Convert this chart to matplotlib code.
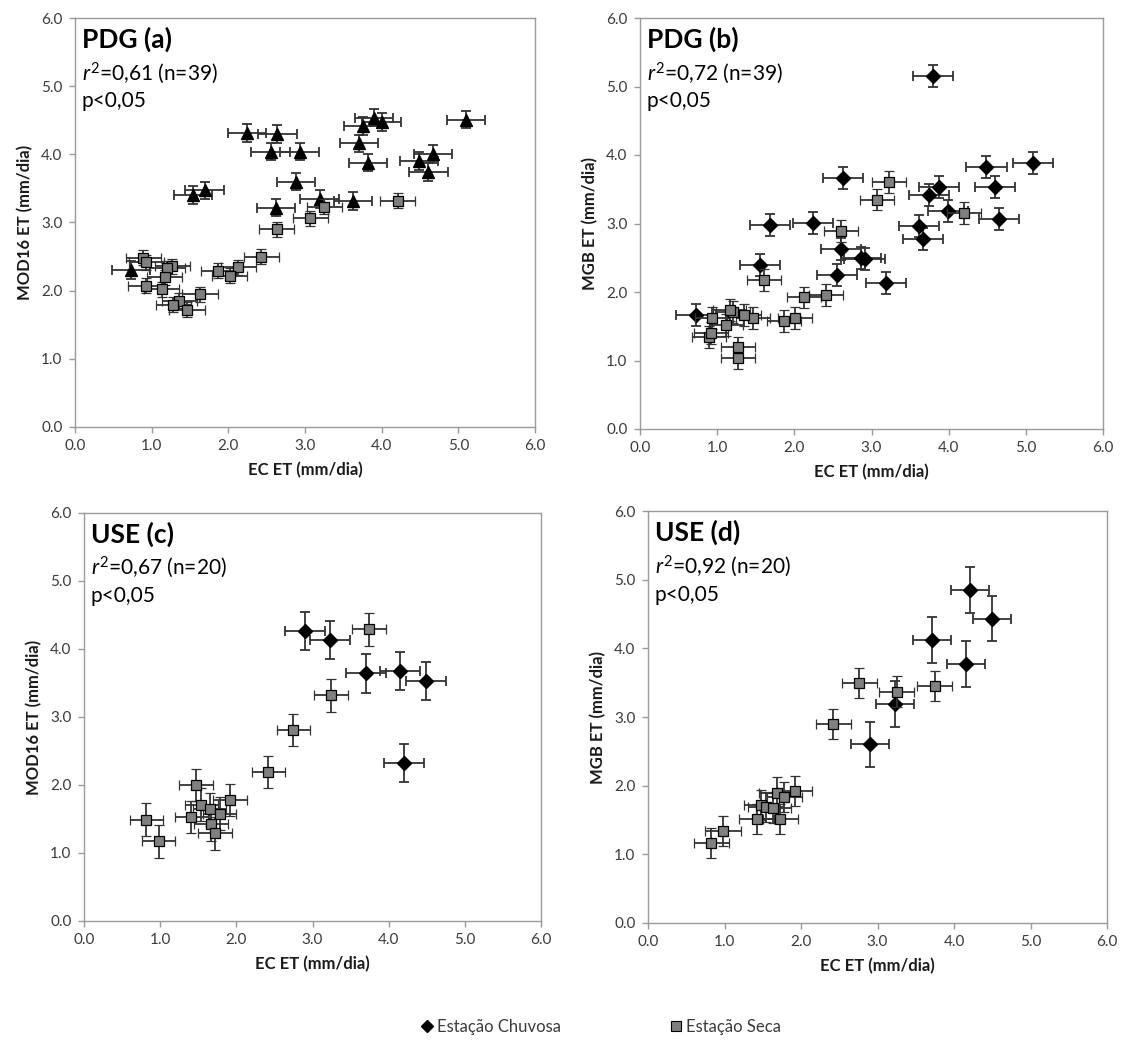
import matplotlib
matplotlib.use("Agg")
import matplotlib.pyplot as plt
from matplotlib.lines import Line2D

plt.rcParams['font.family'] = ['Lato', 'DejaVu Sans']
plt.rcParams['mathtext.fontset'] = 'custom'
plt.rcParams['mathtext.rm'] = 'Lato'
plt.rcParams['mathtext.it'] = 'Lato:italic'

# ---------------- data ----------------
# Panel (a) PDG, MOD16 vs EC
a_wet_x = [0.73, 1.54, 1.69, 2.24, 2.64, 2.55, 2.93, 2.88, 3.19, 2.62, 3.63, 3.70, 3.76, 3.90, 4.00, 3.82, 4.49, 4.67, 4.61, 5.10]
a_wet_y = [2.30, 3.40, 3.47, 4.31, 4.30, 4.04, 4.04, 3.60, 3.35, 3.22, 3.32, 4.16, 4.42, 4.54, 4.47, 3.88, 3.90, 4.01, 3.74, 4.51]
a_dry_x = [4.21, 3.25, 3.07, 2.63, 2.43, 2.13, 2.02, 1.87, 1.63, 0.89, 0.93, 1.27, 1.20, 1.17, 0.92, 1.13, 1.36, 1.28, 1.46]
a_dry_y = [3.32, 3.23, 3.06, 2.90, 2.50, 2.34, 2.22, 2.29, 1.95, 2.48, 2.42, 2.36, 2.33, 2.20, 2.07, 2.02, 1.85, 1.79, 1.72]

# Panel (b) PDG, MGB vs EC
b_wet_x = [3.80, 0.73, 1.55, 1.68, 2.24, 2.63, 2.60, 2.55, 2.86, 2.91, 3.19, 3.62, 3.67, 3.75, 3.88, 3.99, 4.49, 4.60, 4.65, 5.09]
b_wet_y = [5.15, 1.66, 2.40, 2.98, 3.01, 3.66, 2.63, 2.25, 2.49, 2.48, 2.13, 2.96, 2.77, 3.42, 3.53, 3.18, 3.82, 3.53, 3.07, 3.88]
b_dry_x = [3.23, 3.07, 4.20, 2.61, 1.61, 2.12, 2.41, 2.01, 1.86, 1.46, 1.35, 1.20, 1.16, 1.12, 0.93, 0.89, 0.92, 1.27, 1.27]
b_dry_y = [3.61, 3.35, 3.16, 2.89, 2.18, 1.92, 1.96, 1.62, 1.57, 1.62, 1.67, 1.71, 1.74, 1.52, 1.62, 1.34, 1.40, 1.19, 1.04]

# Panel (c) USE, MOD16 vs EC
c_wet_x = [2.90, 3.23, 3.70, 4.15, 4.49, 4.20]
c_wet_y = [4.26, 4.13, 3.64, 3.67, 3.53, 2.33]
c_dry_x = [3.74, 3.24, 2.75, 2.42, 0.82, 0.98, 1.47, 1.54, 1.41, 1.65, 1.78, 1.67, 1.72, 1.92]
c_dry_y = [4.29, 3.32, 2.81, 2.19, 1.49, 1.17, 2.00, 1.71, 1.53, 1.64, 1.58, 1.42, 1.29, 1.78]

# Panel (d) USE, MGB vs EC
d_wet_x = [4.21, 4.50, 3.71, 4.16, 3.23, 2.90]
d_wet_y = [4.85, 4.43, 4.12, 3.77, 3.19, 2.60]
d_dry_x = [2.76, 3.25, 3.75, 2.42, 1.92, 1.68, 1.78, 1.48, 1.54, 1.64, 1.42, 1.73, 0.98, 0.83]
d_dry_y = [3.49, 3.37, 3.45, 2.90, 1.92, 1.90, 1.83, 1.72, 1.69, 1.67, 1.51, 1.51, 1.34, 1.17]

titles = ["PDG (a)", "PDG (b)", "USE (c)", "USE (d)"]
stats = ["0,61 (n=39)", "0,72 (n=39)", "0,67 (n=20)", "0,92 (n=20)"]
ylabels = ["MOD16 ET (mm/dia)", "MGB ET (mm/dia)", "MOD16 ET (mm/dia)", "MGB ET (mm/dia)"]
xlabel = "EC ET (mm/dia)"
ticks = [0.0, 1.0, 2.0, 3.0, 4.0, 5.0, 6.0]
tick_labels = ["0.0", "1.0", "2.0", "3.0", "4.0", "5.0", "6.0"]
legend_labels = ["Estação Chuvosa", "Estação Seca"]

# error bar half-widths (x, y) per panel: wet, dry
errs = [((0.25, 0.13), (0.23, 0.11)),
        ((0.26, 0.16), (0.22, 0.16)),
        ((0.26, 0.28), (0.22, 0.24)),
        ((0.25, 0.33), (0.23, 0.22))]

panels = [(a_wet_x, a_wet_y, a_dry_x, a_dry_y, '^'),
          (b_wet_x, b_wet_y, b_dry_x, b_dry_y, 'D'),
          (c_wet_x, c_wet_y, c_dry_x, c_dry_y, 'D'),
          (d_wet_x, d_wet_y, d_dry_x, d_dry_y, 'D')]

# axes boxes in pixels: left, top, right, bottom
W, H = 1127, 1042
boxes = [(75, 18, 535, 427), (640, 18, 1103, 429), (84, 513, 541, 921), (648, 511, 1107, 923)]

fig = plt.figure(figsize=(W / 100, H / 100), dpi=100)
spine_c = '#9a9a9a'
txt_c = '#3a3a3a'

for i, (box, p) in enumerate(zip(boxes, panels)):
    l, t, r, b = box
    ax = fig.add_axes([l / W, 1 - b / H, (r - l) / W, (b - t) / H])
    wx, wy, dx, dy, wm = p
    (wex, wey), (dex, dey) = errs[i]
    ms_w = 8.5 if wm == '^' else 7.5
    ax.errorbar(wx, wy, xerr=wex, yerr=wey, fmt=wm, color='black', ms=ms_w,
                mfc='black', mec='black', ecolor='#333333', elinewidth=1.3,
                capsize=3.5, capthick=1.3, zorder=3)
    ax.errorbar(dx, dy, xerr=dex, yerr=dey, fmt='s', ms=7.5, mfc='#808080',
                mec='black', mew=0.9, ecolor='#333333', elinewidth=1.3,
                capsize=3.5, capthick=1.3, zorder=4)
    ax.set_xlim(0, 6)
    ax.set_ylim(0, 6)
    ax.set_xticks(ticks)
    ax.set_xticklabels(tick_labels)
    ax.set_yticks(ticks)
    ax.set_yticklabels(tick_labels)
    for s in ax.spines.values():
        s.set_color(spine_c)
        s.set_linewidth(1.0)
    ax.tick_params(direction='out', length=4, width=1, color=spine_c,
                   labelsize=11, labelcolor=txt_c, pad=5)
    ax.set_xlabel(xlabel, fontsize=12, fontweight='bold', color='#1a1a1a', labelpad=6)
    ax.set_ylabel(ylabels[i], fontsize=12, fontweight='bold', color='#1a1a1a', labelpad=6)
    ax.text(0.015, 0.948, titles[i], transform=ax.transAxes, fontsize=19,
            fontweight='bold', va='center', ha='left', color='black')
    ax.text(0.015, 0.866, r"$\mathit{r}^{2}$=" + stats[i], transform=ax.transAxes,
            fontsize=15, va='center', ha='left', color='black')
    ax.text(0.015, 0.797, "p<0,05", transform=ax.transAxes,
            fontsize=15, va='center', ha='left', color='black')

handles = [Line2D([], [], marker='D', ls='none', color='black', ms=6.5),
           Line2D([], [], marker='s', ls='none', mfc='#808080', mec='black', mew=0.8, ms=7)]
leg = fig.legend(handles, legend_labels, loc='center', bbox_to_anchor=(0.533, 1 - 1027 / H),
                 ncol=2, frameon=False, fontsize=12, handlelength=0.7, handletextpad=0.25,
                 columnspacing=6.55)
for t in leg.get_texts():
    t.set_color(txt_c)

fig.savefig("out.png", dpi=100)
